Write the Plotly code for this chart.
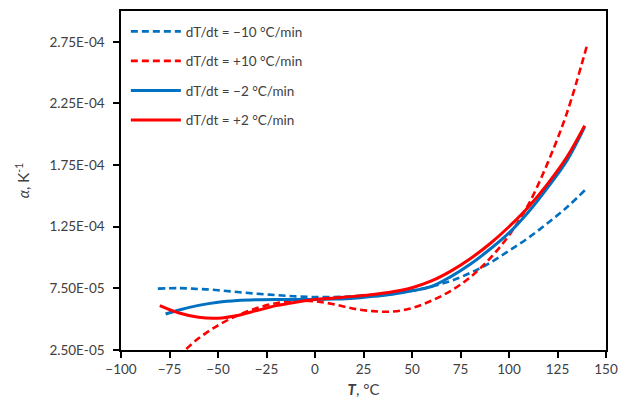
import plotly.graph_objects as go

# ---- data ----
T_b10 = [-81, -70, -60, -50, -40, -30, -20, -10, 0, 10, 20, 30, 40, 50, 60, 70, 80, 90, 100, 110, 120, 130, 140]
a_b10 = [7.48e-5, 7.52e-5, 7.45e-5, 7.35e-5, 7.2e-5, 7.07e-5, 6.95e-5, 6.85e-5, 6.8e-5, 6.8e-5, 6.86e-5,
         6.95e-5, 7.1e-5, 7.3e-5, 7.65e-5, 8.1e-5, 8.75e-5, 9.55e-5, 1.055e-4, 1.16e-4, 1.28e-4, 1.41e-4, 1.56e-4]

T_r10 = [-80, -70, -60, -50, -40, -30, -20, -10, 0, 10, 20, 30, 40, 50, 60, 70, 80, 90, 100, 110, 120, 130, 140]
a_r10 = [1.0e-5, 2.1e-5, 3.45e-5, 4.5e-5, 5.3e-5, 5.9e-5, 6.3e-5, 6.5e-5, 6.45e-5, 6.2e-5, 5.85e-5,
         5.65e-5, 5.62e-5, 5.9e-5, 6.5e-5, 7.3e-5, 8.4e-5, 9.9e-5, 1.18e-4, 1.43e-4, 1.77e-4, 2.18e-4, 2.71e-4]

T_b2 = [-77, -70, -60, -50, -40, -30, -20, -10, 0, 10, 20, 30, 40, 50, 60, 70, 80, 90, 100, 110, 120, 130, 139]
a_b2 = [5.42e-5, 5.75e-5, 6.12e-5, 6.38e-5, 6.52e-5, 6.58e-5, 6.6e-5, 6.6e-5, 6.6e-5, 6.63e-5, 6.7e-5,
        6.85e-5, 7.02e-5, 7.3e-5, 7.65e-5, 8.45e-5, 9.45e-5, 1.065e-4, 1.2e-4, 1.37e-4, 1.57e-4, 1.79e-4, 2.06e-4]

T_r2 = [-80, -70, -60, -50, -40, -30, -20, -10, 0, 10, 20, 30, 40, 50, 60, 70, 80, 90, 100, 110, 120, 130, 139]
a_r2 = [6.1e-5, 5.5e-5, 5.15e-5, 5.08e-5, 5.3e-5, 5.7e-5, 6.1e-5, 6.38e-5, 6.6e-5, 6.72e-5, 6.85e-5,
        7.0e-5, 7.22e-5, 7.55e-5, 8.1e-5, 8.9e-5, 9.9e-5, 1.11e-4, 1.25e-4, 1.41e-4, 1.6e-4, 1.82e-4, 2.07e-4]

names = ["dT/dt = \u221210 \u00b0C/min", "dT/dt = +10 \u00b0C/min",
         "dT/dt = \u22122 \u00b0C/min", "dT/dt = +2 \u00b0C/min"]

y_tickvals = [2.5e-5, 7.5e-5, 1.25e-4, 1.75e-4, 2.25e-4, 2.75e-4]
y_ticktext = ["2.50E-05", "7.50E-05", "1.25E-04", "1.75E-04", "2.25E-04", "2.75E-04"]
x_tickvals = [-100, -75, -50, -25, 0, 25, 50, 75, 100, 125, 150]

BLUE = "#0070C0"
RED = "#FF0000"

series = [
    (T_b10, a_b10, names[0], BLUE, "7px,4px", 2.6),
    (T_r10, a_r10, names[1], RED, "7px,4px", 2.6),
    (T_b2, a_b2, names[2], BLUE, "solid", 3),
    (T_r2, a_r2, names[3], RED, "solid", 3),
]

fig = go.Figure()
for i, (x, y, n, c, d, w) in enumerate(series):
    fig.add_trace(go.Scatter(
        x=x, y=y, name=n, mode="lines", legendgroup="g%d" % i,
        line=dict(color=c, dash=d, width=w, shape="spline", smoothing=1.0),
    ))

axis_common = dict(
    showgrid=False, zeroline=False, showline=True, linecolor="#000000", linewidth=1.5,
    mirror=True, ticks="outside", ticklen=6, tickwidth=1.5, tickcolor="#000000",
    tickfont=dict(family="Lato", size=13.5, color="#404040"),
)

fig.update_layout(
    width=638, height=405,
    margin=dict(l=121, r=32, t=9, b=52),
    paper_bgcolor="white", plot_bgcolor="white",
    font=dict(family="Lato", color="#404040"),
    showlegend=True,
    legend=dict(
        x=0.01, y=0.985, xanchor="left", yanchor="top",
        font=dict(family="Lato", size=13.5, color="#404040"),
        bgcolor="rgba(0,0,0,0)", tracegroupgap=9, itemwidth=50,
    ),
    xaxis=dict(
        range=[-100, 150], tickvals=x_tickvals,
        title=dict(text="<b><i>T</i></b>, \u00b0C", font=dict(family="Lato", size=15, color="#404040"), standoff=9),
        **axis_common,
    ),
    yaxis=dict(
        range=[2.5e-5, 3.0e-4], tickvals=y_tickvals, ticktext=y_ticktext, ticklabelstandoff=6,
        title=dict(text="<i>\u03b1</i>, K<sup>-1</sup>", font=dict(family="Lato", size=15, color="#404040"), standoff=16),
        **axis_common,
    ),
)

fig.write_html("out.html")
